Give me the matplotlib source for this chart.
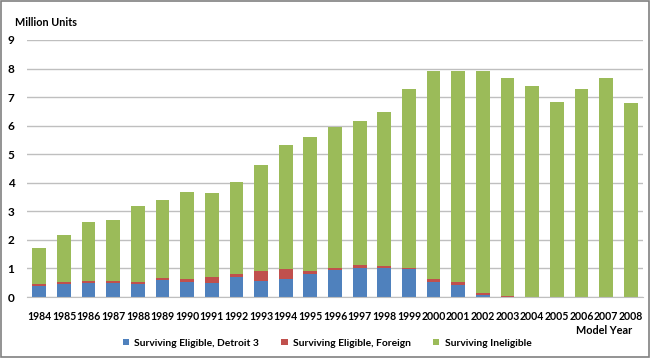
import numpy as np
import matplotlib.pyplot as plt
from matplotlib.patches import Rectangle

years = [str(y) for y in range(1984, 2009)]
detroit3 = [0.39, 0.44, 0.49, 0.49, 0.46, 0.60, 0.53, 0.50, 0.70, 0.56,
            0.62, 0.79, 0.94, 1.01, 1.01, 0.98, 0.52, 0.43, 0.07, 0.00,
            0.00, 0.00, 0.00, 0.00, 0.00]
foreign = [0.05, 0.07, 0.07, 0.08, 0.07, 0.06, 0.10, 0.20, 0.11, 0.34,
           0.36, 0.11, 0.06, 0.10, 0.07, 0.03, 0.10, 0.10, 0.06, 0.02,
           0.00, 0.00, 0.00, 0.00, 0.00]
totals = [1.73, 2.18, 2.61, 2.69, 3.20, 3.40, 3.67, 3.64, 4.03, 4.62,
          5.33, 5.60, 5.95, 6.18, 6.48, 7.30, 7.93, 7.93, 7.93, 7.67,
          7.39, 6.82, 7.28, 7.67, 6.80]

detroit3 = np.array(detroit3)
foreign = np.array(foreign)
ineligible = np.array(totals) - detroit3 - foreign

plt.rcParams['font.family'] = ['Lato', 'DejaVu Sans']

fig = plt.figure(figsize=(6.5, 3.58), dpi=100)
ax = fig.add_axes([27 / 650, 1 - 297 / 358, 616 / 650, 257 / 358])

x = np.arange(len(years))
w = 0.56
ax.bar(x, detroit3, w, color='#4F81BD', label='Surviving Eligible, Detroit 3', zorder=2)
ax.bar(x, foreign, w, bottom=detroit3, color='#C0504D', label='Surviving Eligible, Foreign', zorder=2)
ax.bar(x, ineligible, w, bottom=detroit3 + foreign, color='#9BBB59', label='Surviving Ineligible', zorder=2)

ax.set_xlim(-0.5, len(years) - 0.5)
ax.set_ylim(0, 9)
ax.set_yticks(range(10))
ax.set_xticks(x)
ax.set_xticklabels(years)
ax.yaxis.grid(True, color='#BFBFBF', linewidth=1)
ax.set_axisbelow(True)
for s in ['top', 'right', 'left']:
    ax.spines[s].set_visible(False)
ax.spines['bottom'].set_color('#BFBFBF')
ax.tick_params(axis='both', length=0)
ax.tick_params(axis='y', pad=9, labelsize=8.5)
ax.tick_params(axis='x', pad=10, labelsize=7.6)
for lbl in ax.get_xticklabels() + ax.get_yticklabels():
    lbl.set_fontweight('bold')

fig.text(15 / 650, 1 - 23 / 358, 'Million Units', fontsize=7.8, fontweight='bold', va='center')
fig.text(604 / 650, 1 - 330 / 358, 'Model Year', fontsize=7.8, fontweight='bold', va='center', ha='center')

fig.legend(loc='center', bbox_to_anchor=(327 / 650, 1 - 343 / 358), ncol=3, frameon=False,
           prop={'size': 7.4, 'weight': 'bold'}, handlelength=0.6, handleheight=0.6,
           columnspacing=2.2, handletextpad=0.5)

fig.patches.append(Rectangle((0.001, 0.002), 0.997, 0.995, transform=fig.transFigure,
                             fill=False, edgecolor='#808080', linewidth=1.2))

fig.savefig('out.png', dpi=100)
